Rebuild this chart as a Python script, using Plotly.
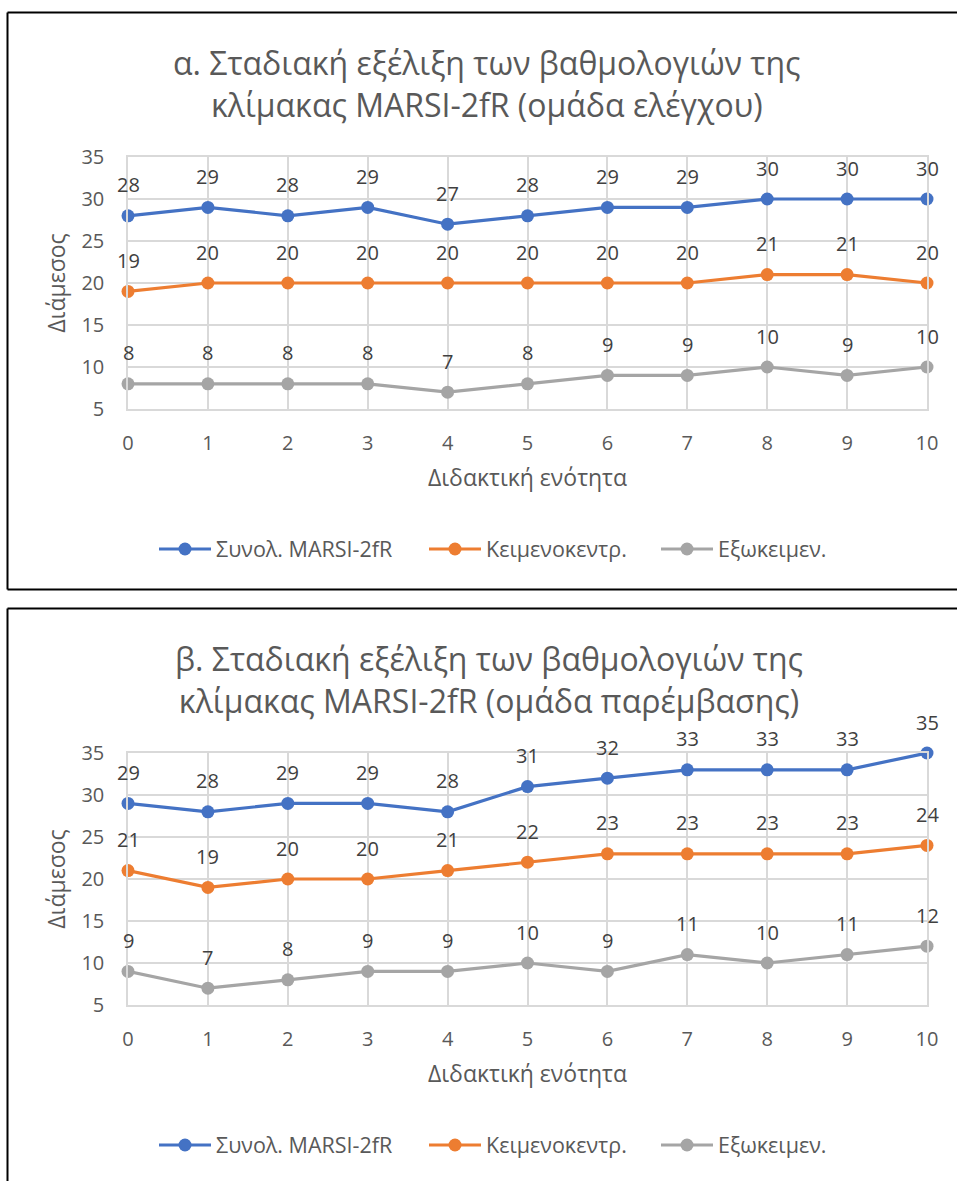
import plotly.graph_objects as go

W, H = 957, 1181
units = list(range(11))
series_names = ["Συνολ. MARSI-2fR", "Κειμενοκεντρ.", "Εξωκειμεν."]
colors = ["#4472C4", "#ED7D31", "#A5A5A5"]

control_total = [28, 29, 28, 29, 27, 28, 29, 29, 30, 30, 30]
control_text = [19, 20, 20, 20, 20, 20, 20, 20, 21, 21, 20]
control_extra = [8, 8, 8, 8, 7, 8, 9, 9, 10, 9, 10]

interv_total = [29, 28, 29, 29, 28, 31, 32, 33, 33, 33, 35]
interv_text = [21, 19, 20, 20, 21, 22, 23, 23, 23, 23, 24]
interv_extra = [9, 7, 8, 9, 9, 10, 9, 11, 10, 11, 12]

title_a = "α. Σταδιακή εξέλιξη των βαθμολογιών της<br>κλίμακας MARSI-2fR (ομάδα ελέγχου)"
title_b = "β. Σταδιακή εξέλιξη των βαθμολογιών της<br>κλίμακας MARSI-2fR (ομάδα παρέμβασης)"
x_title = "Διδακτική ενότητα"
y_title = "Διάμεσος"
y_ticks = [5, 10, 15, 20, 25, 30, 35]

FONT = "Open Sans"
TXT = "#595959"
GRID = "#D9D9D9"


def px_y(p):
    return 1 - p / H


fig = go.Figure()
annotations = []

# one single-entry legend per series so each entry can sit where the original has it
legend_starts = [154, 424, 656]          # left edge of each legend entry (px)
legend_rows = [549, 1145]                # vertical centre of each legend row (px)
legend_layout = {}

groups = [
    (["x", "y"], [control_total, control_text, control_extra]),
    (["x2", "y2"], [interv_total, interv_text, interv_extra]),
]
leg_idx = 0
for g, ((xa, ya), data) in enumerate(groups):
    for k, (name, vals, col) in enumerate(zip(series_names, data, colors)):
        leg_idx += 1
        leg_name = "legend" if leg_idx == 1 else f"legend{leg_idx}"
        legend_layout[leg_name] = dict(
            orientation="h", x=legend_starts[k] / W, y=px_y(legend_rows[g]),
            xanchor="left", yanchor="middle", itemwidth=52,
            font=dict(family=FONT, size=21.5, color=TXT), bgcolor="rgba(0,0,0,0)",
        )
        fig.add_trace(go.Scatter(
            x=units, y=vals, name=name, mode="lines+markers",
            line=dict(color=col, width=3.2),
            marker=dict(color=col, size=13),
            xaxis=xa, yaxis=ya, legend=leg_name, cliponaxis=False, showlegend=True,
        ))
        for xv, yv in zip(units, vals):
            annotations.append(dict(
                x=xv, y=yv, xref=xa, yref=ya, text=str(yv), showarrow=False,
                yshift=31, font=dict(family=FONT, size=20, color="#404040"),
            ))

annotations.append(dict(x=487 / W, y=px_y(83.5), xref="paper", yref="paper",
                        text=title_a, showarrow=False, xanchor="center", yanchor="middle",
                        font=dict(family=FONT, size=32, color=TXT)))
annotations.append(dict(x=489 / W, y=px_y(679), xref="paper", yref="paper",
                        text=title_b, showarrow=False, xanchor="center", yanchor="middle",
                        font=dict(family=FONT, size=32, color=TXT)))

xdom = [128 / W, 927 / W]
axis_common_x = dict(
    range=[0, 10], tickvals=units, showgrid=True, gridcolor=GRID, gridwidth=1.5,
    showline=True, linecolor=GRID, linewidth=1.5, mirror=True, zeroline=False,
    ticks="outside", ticklen=0, ticklabelstandoff=15,
    tickfont=dict(family=FONT, size=20, color=TXT),
    title=dict(text=x_title, font=dict(family=FONT, size=23, color=TXT), standoff=15),
    domain=xdom, fixedrange=True, automargin=False,
)
axis_common_y = dict(
    range=[5, 35], tickvals=y_ticks, showgrid=True, gridcolor=GRID, gridwidth=1.5,
    showline=True, linecolor=GRID, linewidth=1.5, mirror=True, zeroline=False,
    ticks="outside", ticklen=0, ticklabelstandoff=18,
    tickfont=dict(family=FONT, size=20, color=TXT),
    title=dict(text=y_title, font=dict(family=FONT, size=23, color=TXT), standoff=9),
    fixedrange=True, automargin=False,
)

border = dict(color="black", width=2)
xl = 7.5 / W
fig.update_layout(
    autosize=True, showlegend=True,
    margin=dict(l=0, r=0, t=0, b=0, pad=0, autoexpand=False),
    paper_bgcolor="white", plot_bgcolor="white",
    font=dict(family=FONT, color=TXT),
    xaxis=dict(axis_common_x, anchor="y"),
    yaxis=dict(axis_common_y, domain=[px_y(409), px_y(157)], anchor="x"),
    xaxis2=dict(axis_common_x, anchor="y2"),
    yaxis2=dict(axis_common_y, domain=[px_y(1005), px_y(753)], anchor="x2"),
    annotations=annotations,
    shapes=[
        dict(type="line", xref="paper", yref="paper", x0=xl, x1=1, y0=px_y(12.5), y1=px_y(12.5), line=border),
        dict(type="line", xref="paper", yref="paper", x0=xl, x1=1, y0=px_y(589.5), y1=px_y(589.5), line=border),
        dict(type="line", xref="paper", yref="paper", x0=xl, x1=xl, y0=px_y(589.5), y1=px_y(12.5), line=border),
        dict(type="line", xref="paper", yref="paper", x0=xl, x1=1, y0=px_y(608.5), y1=px_y(608.5), line=border),
        dict(type="line", xref="paper", yref="paper", x0=xl, x1=xl, y0=0, y1=px_y(608.5), line=border),
    ],
    **legend_layout,
)

post = (
    "document.documentElement.style.margin='0';"
    "document.documentElement.style.overflow='hidden';"
    "document.body.style.margin='0';document.body.style.overflow='hidden';"
    "var gd=document.getElementById('{plot_id}');"
    "gd.style.width='100vw';gd.style.height='100vh';"
    "Plotly.Plots.resize(gd);"
)
fig.write_html("out.html", config={"displayModeBar": False, "responsive": True},
               default_width="100vw", default_height="100vh", post_script=post)
